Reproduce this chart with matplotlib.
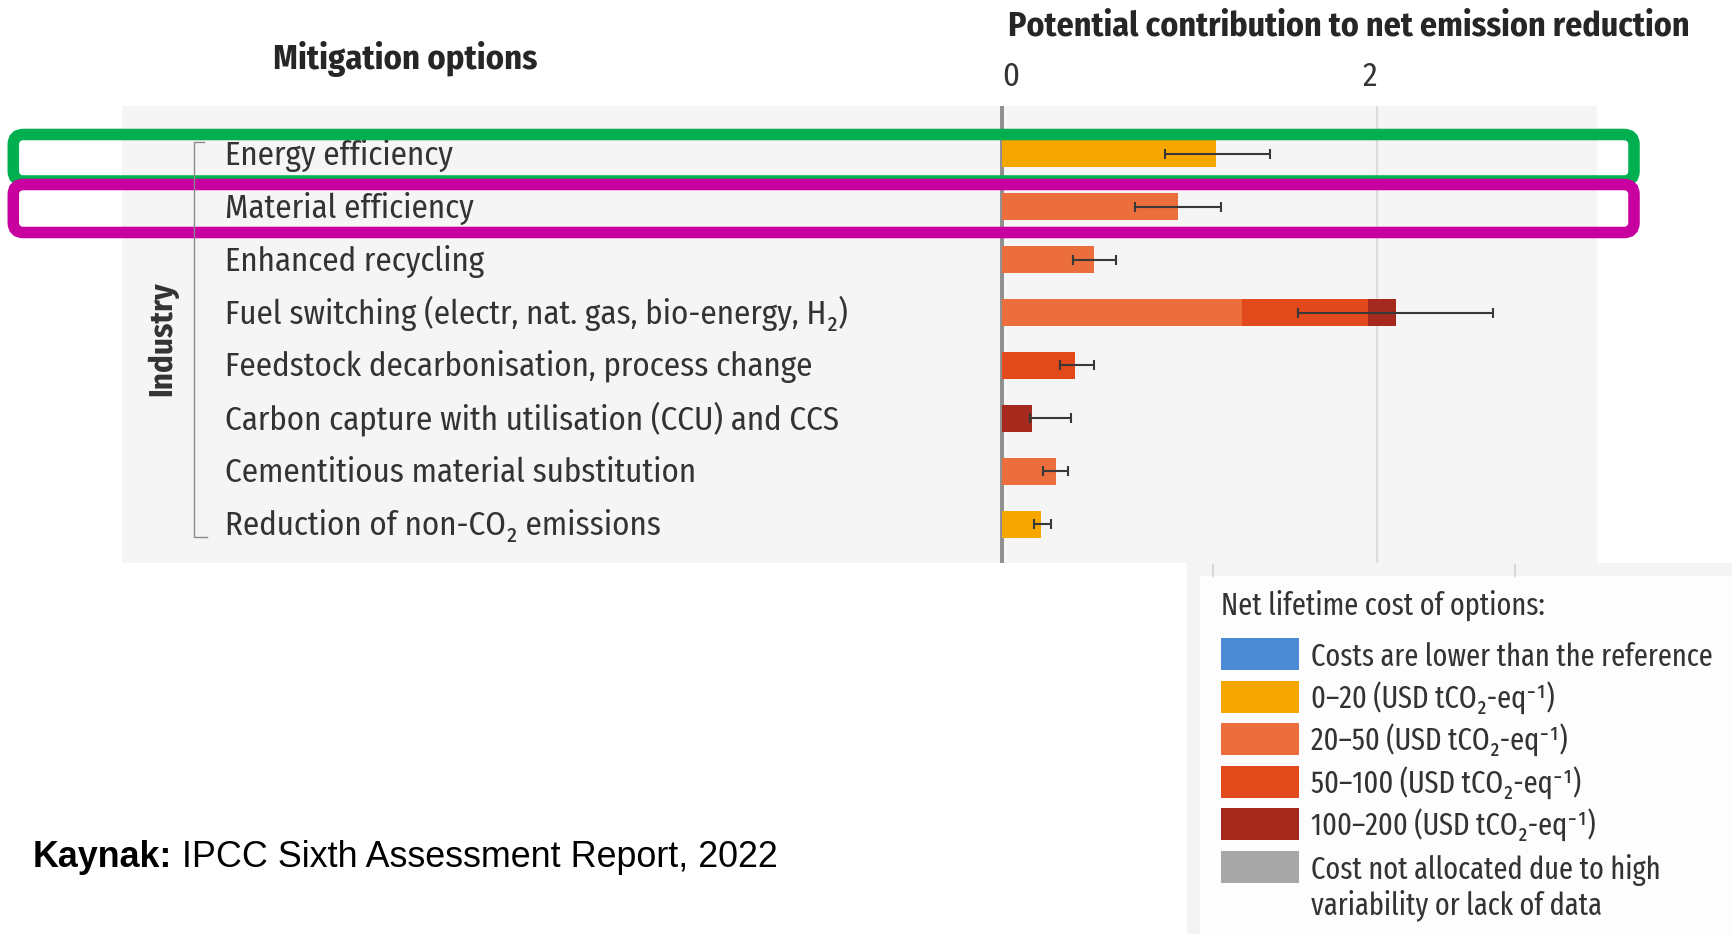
import numpy as np
import matplotlib
matplotlib.use("Agg")
import matplotlib.pyplot as plt
import matplotlib.transforms as mtransforms
from matplotlib.patches import Rectangle, FancyBboxPatch

# ---------------- data ----------------
categories = [
    "Energy efficiency",
    "Material efficiency",
    "Enhanced recycling",
    "Fuel switching (electr, nat. gas, bio-energy, H\u2082)",
    "Feedstock decarbonisation, process change",
    "Carbon capture with utilisation (CCU) and CCS",
    "Cementitious material substitution",
    "Reduction of non-CO\u2082 emissions",
]
cost_0_20 = [1.14, 0.00, 0.00, 0.00, 0.00, 0.00, 0.00, 0.21]
cost_20_50 = [0.00, 0.94, 0.49, 1.28, 0.00, 0.00, 0.29, 0.00]
cost_50_100 = [0.00, 0.00, 0.00, 0.67, 0.39, 0.00, 0.00, 0.00]
cost_100_200 = [0.00, 0.00, 0.00, 0.15, 0.00, 0.16, 0.00, 0.00]
range_low = [0.87, 0.71, 0.38, 1.58, 0.31, 0.15, 0.22, 0.17]
range_high = [1.43, 1.17, 0.61, 2.62, 0.49, 0.37, 0.35, 0.26]
tick_values = [0, 2]
tick_labels = ["0", "2"]

legend_labels = [
    "Costs are lower than the reference",
    "0\u201320 (USD tCO\u2082-eq\u207b\u00b9)",
    "20\u201350 (USD tCO\u2082-eq\u207b\u00b9)",
    "50\u2013100 (USD tCO\u2082-eq\u207b\u00b9)",
    "100\u2013200 (USD tCO\u2082-eq\u207b\u00b9)",
    "Cost not allocated due to high\nvariability or lack of data",
]
legend_colors = ["#4A8BD3", "#F5A700", "#EB6E3C", "#E24A1B", "#A5291C", "#A8A8A8"]
segment_colors = legend_colors[1:5]

# ---------------- style ----------------
W, H = 1732, 934
REG = ["Fira Sans Condensed", "DejaVu Sans"]
XCOND = ["Fira Sans Extra Condensed", "Fira Sans Condensed", "DejaVu Sans"]
TXT = "#333333"

fig = plt.figure(figsize=(W / 100, H / 100), dpi=100)
fig.patch.set_facecolor("white")

# main panel axes (pixel geometry of the grey panel)
pl, pr, pt, pb = 121.5, 1597, 106, 563
ax = fig.add_axes([pl / W, 1 - pb / H, (pr - pl) / W, (pb - pt) / H])
ax.set_facecolor("#F5F5F5")
zero_px, ppu = 1002, 187.5
ax.set_xlim(-(zero_px - pl) / ppu, (pr - zero_px) / ppu)
row0, rstep = 153.7, 52.94
ax.set_ylim((pb - row0) / rstep, (pt - row0) / rstep)
for s in ax.spines.values():
    s.set_visible(False)
ax.set_yticks([])

rows = np.arange(len(categories))
left = np.zeros(len(categories))
for vals, col in zip([cost_0_20, cost_20_50, cost_50_100, cost_100_200], segment_colors):
    vals = np.asarray(vals)
    ax.barh(rows, vals, left=left, height=0.52, color=col, zorder=3)
    left += vals

lo, hi = np.asarray(range_low), np.asarray(range_high)
ax.errorbar((lo + hi) / 2, rows, xerr=(hi - lo) / 2, fmt="none", ecolor="#383838",
            elinewidth=1.5, capsize=3.8, capthick=1.5, zorder=4)

ax.axvline(0, color="#8E8E8E", lw=2.8, zorder=2)
ax.axvline(2, color="#DCDCDC", lw=1.5, zorder=1)

ax.set_xticks(tick_values)
ax.set_xticklabels(tick_labels)
ax.xaxis.tick_top()
ax.tick_params(axis="x", length=0, pad=14.4, colors=TXT)

# overlay axes in pixel coordinates
ov = fig.add_axes([0, 0, 1, 1], zorder=5)
ov.set_xlim(0, W)
ov.set_ylim(H, 0)
ov.axis("off")
ov.patch.set_alpha(0)

renderer = fig.canvas.get_renderer()


def fit(texts, ref, target):
    w = ref.get_window_extent(renderer).width
    s = ref.get_fontsize() * target / w
    for t in texts:
        t.set_fontsize(s)
    return s


# row labels
lab_tr = mtransforms.blended_transform_factory(ov.transData, ax.transData) + \
    mtransforms.ScaledTranslation(0, -0.11, fig.dpi_scale_trans)
row_texts = [ax.text(225, i, c, transform=lab_tr, ha="left", va="baseline", color=TXT,
                     family=REG, fontsize=20, zorder=6) for i, c in enumerate(categories)]
row_size = fit(row_texts, row_texts[3], 624)

tick_ha = ["left", "right"]
for tk, ha in zip(ax.xaxis.get_major_ticks(), tick_ha):
    tk.label2.set_ha(ha)
    tk.label2.set_va("baseline")
    tk.label2.set_fontfamily(REG)
    tk.label2.set_fontsize(row_size)
ax.tick_params(axis="x", pad=14.4)

# titles
t_mit = ov.text(273, 69, "Mitigation options", family=REG, weight="bold", color="#262626",
                va="baseline", ha="left", fontsize=20)
fit([t_mit], t_mit, 265)
t_pot = ov.text(1008, 35, "Potential contribution to net emission reduction", family=REG,
                weight="bold", color="#262626", va="baseline", ha="left", fontsize=20)
fit([t_pot], t_pot, 682)
t_ind = ov.text(163, 339, "Industry", family=REG, weight="bold", color="#333333",
                rotation=90, va="center", ha="center", fontsize=20)
w_ind = t_ind.get_window_extent(renderer).height
t_ind.set_fontsize(20 * 115 / w_ind)

# bracket
ov.plot([204, 193.5, 193.5, 207], [141.5, 141.5, 537, 537], color="#8A8A8A", lw=1.0,
        solid_joinstyle="miter")

# legend block background
ov.add_patch(Rectangle((1187, 563), W - 1187, H - 563, facecolor="#F4F4F4", edgecolor="none"))
ov.add_patch(Rectangle((1200, 576), W - 1200, H - 576, facecolor="#FDFDFD", edgecolor="none"))
for gx in (1213, 1515):
    ov.plot([gx, gx], [565, 576], color="#CFCFCF", lw=1.2)

t_leg = ov.text(1221, 615, "Net lifetime cost of options:", family=XCOND, color=TXT,
                va="baseline", ha="left", fontsize=20)
fit([t_leg], t_leg, 323)
leg_y0, leg_step = 654, 42.5
leg_texts = []
for k, (lab, col) in enumerate(zip(legend_labels, legend_colors)):
    yc = leg_y0 + k * leg_step
    ov.add_patch(Rectangle((1221, yc - 16), 78, 32, facecolor=col, edgecolor="none"))
    lines = lab.split("\n")
    for j, ln in enumerate(lines):
        leg_texts.append(ov.text(1311, yc + 12 + j * 36, ln, family=XCOND, color=TXT,
                                 va="baseline", ha="left", fontsize=20))
fit(leg_texts, leg_texts[0], 402)

# highlight boxes
ov.add_patch(FancyBboxPatch((13.3, 134.5), 1634 - 13.3, 181 - 134.5,
                            boxstyle="round,pad=0,rounding_size=10", facecolor="none",
                            edgecolor="#00B050", lw=8.3))
ov.add_patch(FancyBboxPatch((13.3, 184.5), 1634 - 13.3, 232.5 - 184.5,
                            boxstyle="round,pad=0,rounding_size=10", facecolor="none",
                            edgecolor="#C8009F", lw=8.3))

# footer
f1 = ov.text(33, 867, "Kaynak:", family=["Liberation Sans", "DejaVu Sans"], weight="bold",
             color="black", va="baseline", ha="left", fontsize=26)
f2 = ov.text(33, 867, " IPCC Sixth Assessment Report, 2022", family=["Liberation Sans", "DejaVu Sans"],
             color="black", va="baseline", ha="left", fontsize=26)
w1 = f1.get_window_extent(renderer).width
w2 = f2.get_window_extent(renderer).width
fs = 26 * 747 / (w1 + w2)
f1.set_fontsize(fs)
f2.set_fontsize(fs)
w1 = f1.get_window_extent(renderer).width
f2.set_x(33 + w1)

fig.savefig("out.png", dpi=100, facecolor="white")
